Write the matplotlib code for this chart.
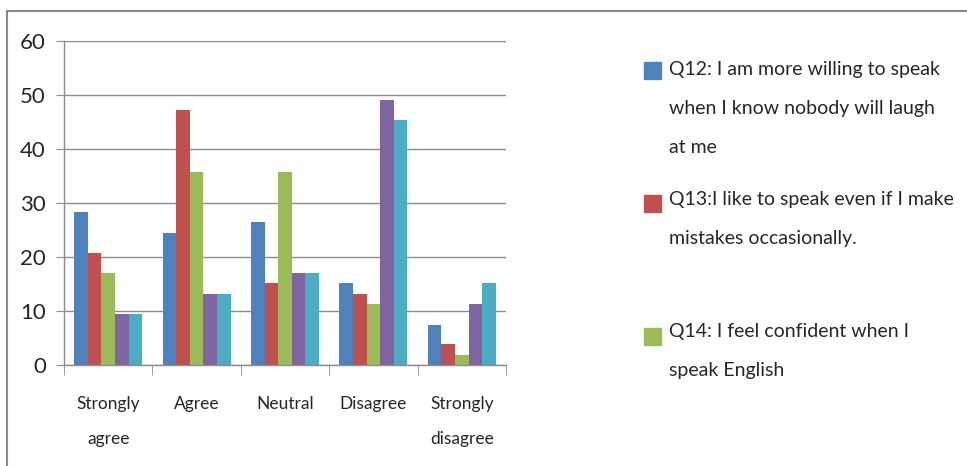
import matplotlib.pyplot as plt
import numpy as np
from matplotlib.lines import Line2D
from matplotlib.patches import Rectangle

W, H = 967, 466

categories = ["Strongly\nagree", "Agree", "Neutral", "Disagree", "Strongly\ndisagree"]

# percentages of the 53 respondents for each question
q12 = [28.3, 24.5, 26.4, 15.1, 7.5]
q13 = [20.8, 47.2, 15.1, 13.2, 3.8]
q14 = [17.0, 35.8, 35.8, 11.3, 1.9]
q15 = [9.4, 13.2, 17.0, 49.1, 11.3]
q16 = [9.4, 13.2, 17.0, 45.3, 15.1]

series = [q12, q13, q14, q15, q16]
colors = ["#4F81BD", "#C0504D", "#9BBB59", "#8064A2", "#4BACC6"]

legend_lines = [
    ["Q12: I am more willing to speak", "when I know nobody will laugh", "at me"],
    ["Q13:I like to speak even if I make", "mistakes occasionally."],
    ["Q14: I feel confident when I", "speak English"],
]

plt.rcParams["font.family"] = ["Lato", "DejaVu Sans"]
grey = "#8c8c8c"
text_color = "#262626"


def fx(px):
    return px / W


def fy(py):
    return 1 - py / H


fig = plt.figure(figsize=(W / 100, H / 100), dpi=100)
ax = fig.add_axes([fx(64), fy(365), 442 / W, 324 / H])

x = np.arange(len(categories))
width = 1 / 6.5
for i, (vals, c) in enumerate(zip(series, colors)):
    ax.bar(x + (i - 2) * width, vals, width, color=c, zorder=2)

ax.set_xlim(-0.5, len(categories) - 0.5)
ax.set_ylim(0, 60)
ax.set_yticks(range(0, 61, 10))
ax.yaxis.grid(True, color=grey, lw=1.0, zorder=0)
ax.set_axisbelow(True)

for side in ["top", "right"]:
    ax.spines[side].set_visible(False)
for side in ["left", "bottom"]:
    ax.spines[side].set_color(grey)
    ax.spines[side].set_linewidth(1.0)

ax.tick_params(axis="y", direction="out", length=6, color=grey, labelsize=16,
               pad=7, labelcolor=text_color)
ax.set_xticks(x)
ax.set_xticklabels(categories, fontsize=12.5, color=text_color, linespacing=2.5)
ax.set_xticks(np.arange(-0.5, len(categories)), minor=True)
ax.tick_params(axis="x", which="major", length=0, pad=22)
ax.tick_params(axis="x", which="minor", direction="out", length=7, color=grey)

# outer chart border (runs off the right and bottom edges)
fig.add_artist(Line2D([fx(7), 1], [fy(11), fy(11)], color="#8a8a8a", lw=1.5))
fig.add_artist(Line2D([fx(7), fx(7)], [fy(11), 0], color="#8a8a8a", lw=1.5))

# legend, keys aligned to the first line of each entry
key_tops = [62, 195, 328]
first_baselines = [75, 205, 337]
line_step = 39
for lines, c, top, base in zip(legend_lines, colors, key_tops, first_baselines):
    fig.add_artist(Rectangle((fx(644), fy(top + 17)), 17 / W, 17 / H,
                             transform=fig.transFigure, color=c))
    for k, line in enumerate(lines):
        fig.text(fx(669), fy(base + k * line_step), line, fontsize=14,
                 color=text_color, va="baseline", ha="left")

fig.savefig("out.png", dpi=100)
